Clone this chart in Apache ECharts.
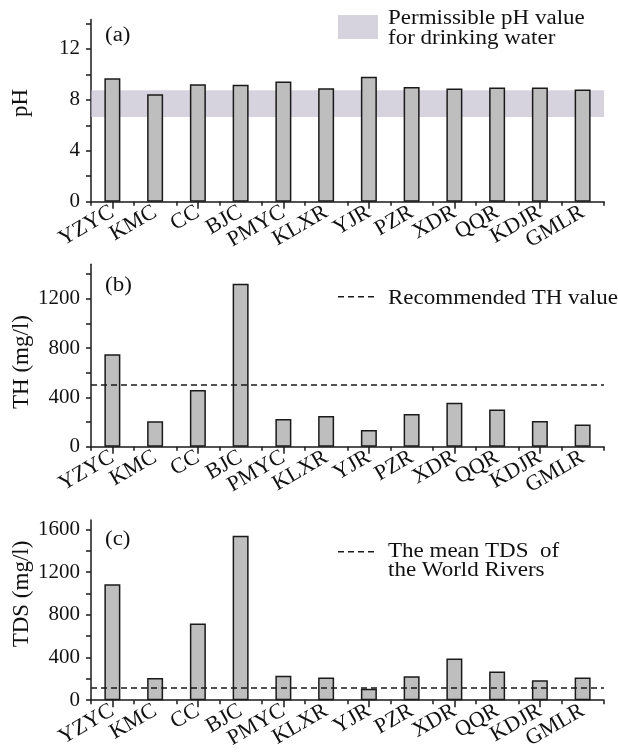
<!DOCTYPE html>
<html>
<head>
<meta charset="utf-8">
<script src="https://cdn.jsdelivr.net/npm/echarts@6/dist/echarts.min.js"></script>
<style>
html,body{margin:0;padding:0;background:#fff;}
#chart{width:618px;height:752px;}
</style>
</head>
<body>
<div id="chart"></div>
<script>
const categories = ['YZYC','KMC','CC','BJC','PMYC','KLXR','YJR','PZR','XDR','QQR','KDJR','GMLR'];
const phValues  = [9.69, 8.44, 9.22, 9.17, 9.43, 8.91, 9.80, 9.01, 8.88, 8.96, 8.96, 8.81];
const thValues  = [750, 206, 460, 1322, 224, 250, 135, 266, 357, 301, 208, 181];
const tdsValues = [1088, 209, 719, 1543, 229, 214, 107, 224, 390, 270, 188, 213];
const phBand = [6.65, 8.75];
const thRecommended = 500;
const tdsWorldMean = 113;
const phTicks  = [0,2,4,6,8,10,12,14];
const phLabels = [0,4,8,12];
const thTicks  = [0,200,400,600,800,1000,1200,1400];
const thLabels = [0,400,800,1200];
const tdsTicks  = [0,200,400,600,800,1000,1200,1400,1600];
const tdsLabels = [0,400,800,1200,1600];
const axisNames = ['pH', 'TH (mg/l)', 'TDS (mg/l)'];
const panelTags = ['(a)', '(b)', '(c)'];
const legendTexts = ['Permissible pH value\nfor drinking water', 'Recommended TH value', 'The mean TDS  of\nthe World Rivers'];

const FONT = "'Liberation Serif', 'Times New Roman', serif";
const INK = '#1a1a1a';

const panels = [
  {top: 19.5, height: 182.2, max: 14.3, values: phValues, ticks: phTicks, labels: phLabels},
  {top: 264.3, height: 182.4, max: 1480, values: thValues, ticks: thTicks, labels: thLabels},
  {top: 520, height: 181.7, max: 1690, values: tdsValues, ticks: tdsTicks, labels: tdsLabels}
];

const grid = [], xAxis = [], yAxis = [], series = [];
panels.forEach((p, i) => {
  grid.push({left: 91, width: 513, top: p.top, height: p.height, containLabel: false});
  xAxis.push({
    type: 'category', gridIndex: i, data: categories, position: 'bottom', boundaryGap: true,
    axisLine: {show: true, lineStyle: {color: INK, width: 1.5}},
    axisTick: {show: true, alignWithLabel: false, length: 4, lineStyle: {color: INK, width: 1.5}},
    axisLabel: {show: true, rotate: 30, interval: 0, margin: 9, fontSize: 22, fontFamily: FONT, color: '#111'},
    splitLine: {show: false}
  });
  xAxis.push({
    type: 'category', gridIndex: i, data: categories, position: 'bottom', boundaryGap: true,
    axisLine: {show: false},
    axisTick: {show: true, alignWithLabel: true, length: 7, lineStyle: {color: INK, width: 1.5}},
    axisLabel: {show: false},
    splitLine: {show: false}
  });
  yAxis.push({
    type: 'value', gridIndex: i, min: 0, max: p.max,
    axisLine: {show: true, lineStyle: {color: INK, width: 1.5}},
    axisTick: {show: true, length: 5, customValues: p.ticks, lineStyle: {color: INK, width: 1.5}},
    axisLabel: {show: true, customValues: p.labels, margin: 11, fontSize: 21, fontFamily: FONT, color: '#111',
      formatter: v => String(v)},
    splitLine: {show: false}
  });
  series.push({
    type: 'bar', xAxisIndex: i * 2, yAxisIndex: i, data: p.values, barWidth: 16, z: 2,
    itemStyle: {color: '#bebebe', borderColor: INK, borderWidth: 1.5}
  });
});

// permissible pH band (drawn over the bars, semi-transparent)
series.push({
  type: 'line', xAxisIndex: 0, yAxisIndex: 0, data: [], z: 10, silent: true,
  markArea: {silent: true, itemStyle: {color: 'rgba(188,182,200,0.6)'},
    data: [[{yAxis: phBand[0]}, {yAxis: phBand[1]}]]}
});
series.push({
  type: 'line', xAxisIndex: 2, yAxisIndex: 1, data: [], z: 10, silent: true,
  markLine: {silent: true, symbol: ['none','none'], label: {show: false},
    lineStyle: {color: INK, type: [6,4], width: 1.5}, data: [{yAxis: thRecommended}]}
});
series.push({
  type: 'line', xAxisIndex: 4, yAxisIndex: 2, data: [], z: 10, silent: true,
  markLine: {silent: true, symbol: ['none','none'], label: {show: false},
    lineStyle: {color: INK, type: [6,4], width: 1.5}, data: [{yAxis: tdsWorldMean}]}
});

function txt(x, y, text, size, lh, sx) {
  return {type: 'text', x: x, y: y, scaleX: sx || 1, silent: true,
    style: {text: text, fontSize: size, fontFamily: FONT, fill: '#111', lineHeight: lh || size, verticalAlign: 'top'}};
}
function vtxt(x, y, text, size) {
  return {type: 'text', x: x, y: y, rotation: Math.PI / 2, silent: true,
    style: {text: text, fontSize: size, fontFamily: FONT, fill: '#111', align: 'center', verticalAlign: 'middle'}};
}
function dash(x1, x2, y) {
  return {type: 'line', silent: true, shape: {x1: x1, y1: y, x2: x2, y2: y},
    style: {stroke: INK, lineWidth: 1.5, lineDash: [6,4]}};
}

const graphic = [
  vtxt(21, 103, axisNames[0], 23),
  vtxt(22, 362, axisNames[1], 23),
  vtxt(22, 594, axisNames[2], 23),
  txt(105, 26, panelTags[0], 20, 20, 1.15),
  txt(105, 276, panelTags[1], 20, 20, 1.15),
  txt(105, 530, panelTags[2], 20, 20, 1.15),
  {type: 'rect', silent: true, shape: {x: 338, y: 15, width: 40, height: 24}, style: {fill: 'rgba(188,182,200,0.6)'}},
  txt(388, 9, legendTexts[0], 20, 20, 1.15),
  dash(338, 378, 296.7),
  txt(388, 289, legendTexts[1], 20, 20, 1.15),
  dash(338, 378, 551.7),
  txt(388, 542, legendTexts[2], 20, 19, 1.15)
];

const chart = echarts.init(document.getElementById('chart'), null, {renderer: 'canvas'});
chart.setOption({animation: false, backgroundColor: '#fff', grid, xAxis, yAxis, series, graphic});
</script>
</body>
</html>
